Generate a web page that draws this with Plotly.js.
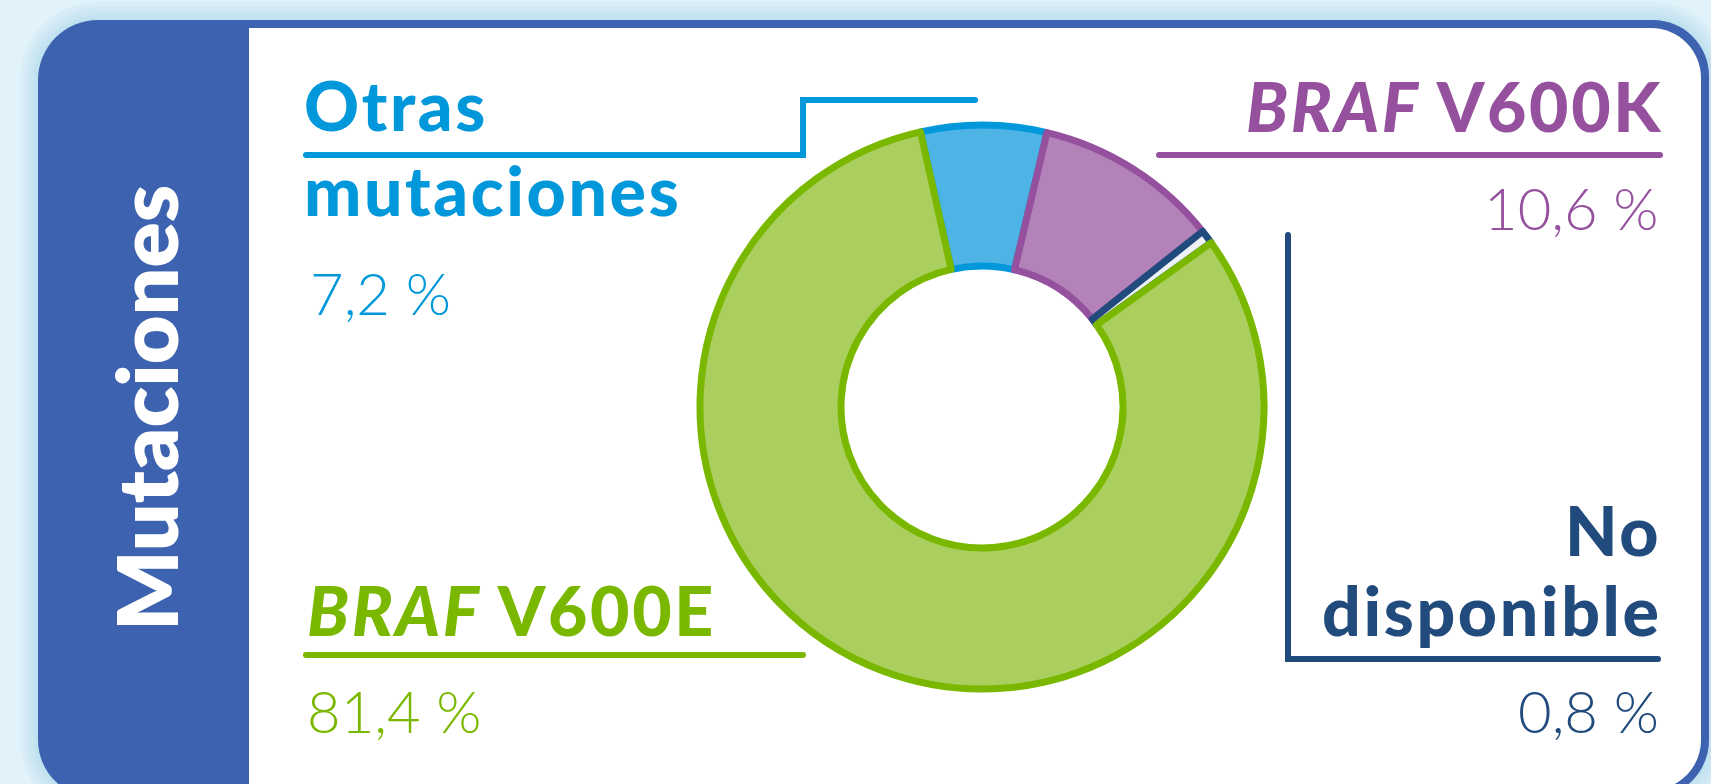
<!DOCTYPE html>
<html>
<head>
<meta charset="utf-8">
<script src="https://cdn.plot.ly/plotly-3.0.1.min.js"></script>
<style>
  html, body { margin: 0; padding: 0; background: #e2f2fa; }
  #chart { width: 1711px; height: 784px; }
  text.annotation-text[style*="font-weight: 900"] { letter-spacing: 2.6px; }
</style>
</head>
<body>
<div id="chart"></div>
<script>
// ---------- DATA ----------
const categories = ['Otras mutaciones', 'BRAF V600K', 'No disponible', 'BRAF V600E'];
const values = [7.2, 10.6, 0.8, 81.4];
const panelTitle = 'Mutaciones';

// ---------- STYLE ----------
const fillColors = ['#4eb4e5', '#b382b8', '#eef2f8', '#abcf5e'];
const lineColors = ['#0098da', '#95519e', '#214b7d', '#7ab800'];

const W = 1711, H = 784;
const px = x => x / W;
const py = y => 1 - y / H;

const FONT = 'Lato, "Open Sans", "DejaVu Sans", sans-serif';
const fmtPct = v => v.toFixed(1).replace('.', ',') + ' %';

function roundRectPath(x0, y0, x1, y1, r) {
  const k = 0.5523;
  const [tl, tr, br, bl] = r;
  const P = (x, y) => px(x).toFixed(5) + ',' + py(y).toFixed(5);
  let d = 'M' + P(x0 + tl, y0);
  d += ' L' + P(x1 - tr, y0);
  if (tr) d += ' C' + P(x1 - tr + tr * k, y0) + ' ' + P(x1, y0 + tr - tr * k) + ' ' + P(x1, y0 + tr);
  d += ' L' + P(x1, y1 - br);
  if (br) d += ' C' + P(x1, y1 - br + br * k) + ' ' + P(x1 - br + br * k, y1) + ' ' + P(x1 - br, y1);
  d += ' L' + P(x0 + bl, y1);
  if (bl) d += ' C' + P(x0 + bl - bl * k, y1) + ' ' + P(x0, y1 - bl + bl * k) + ' ' + P(x0, y1 - bl);
  d += ' L' + P(x0, y0 + tl);
  if (tl) d += ' C' + P(x0, y0 + tl - tl * k) + ' ' + P(x0 + tl - tl * k, y0) + ' ' + P(x0 + tl, y0);
  return d + ' Z';
}
function polyPath(pts) {
  return pts.map((p, i) => (i ? 'L' : 'M') + px(p[0]).toFixed(5) + ',' + py(p[1]).toFixed(5)).join(' ');
}

const shapes = [];
// soft shadow halo around the card
[18, 13, 9, 5, 2].forEach(g => {
  shapes.push({ type: 'path', xref: 'paper', yref: 'paper', layer: 'below',
    path: roundRectPath(38 - g, 20 - g, 1709 + g, 798 + g, [60 + g, 56 + g, 58 + g, 58 + g]),
    fillcolor: 'rgba(160,212,236,0.14)', line: { width: 0 } });
});
// card (blue) and white panel
shapes.push({ type: 'path', xref: 'paper', yref: 'paper', layer: 'below',
  path: roundRectPath(38, 20, 1709, 798, [60, 56, 58, 58]),
  fillcolor: '#3d62b0', line: { width: 0 } });
shapes.push({ type: 'path', xref: 'paper', yref: 'paper', layer: 'below',
  path: roundRectPath(249, 28, 1701, 790, [0, 50, 50, 0]),
  fillcolor: '#ffffff', line: { width: 0 } });

// leader lines
const LW = 6;
function leader(pts, color) {
  shapes.push({ type: 'path', xref: 'paper', yref: 'paper', layer: 'below',
    path: polyPath(pts), line: { color: color, width: LW } });
  [pts[0], pts[pts.length - 1]].forEach(p => {
    shapes.push({ type: 'circle', xref: 'paper', yref: 'paper', layer: 'below',
      x0: px(p[0] - LW / 2), x1: px(p[0] + LW / 2), y0: py(p[1] + LW / 2), y1: py(p[1] - LW / 2),
      fillcolor: color, line: { width: 0 } });
  });
}
leader([[306, 155], [803, 155], [803, 100], [975, 100]], lineColors[0]);
leader([[1159, 155], [1660, 155]], lineColors[1]);
leader([[1288, 235], [1288, 659], [1658, 659]], lineColors[2]);
leader([[306, 655], [803, 655]], lineColors[3]);

// ---------- ANNOTATIONS ----------
const annotations = [];
function txt(text, x, baseline, size, color, anchor, weight) {
  annotations.push({
    xref: 'paper', yref: 'paper', x: px(x), y: py(baseline - 0.387 * size),
    xanchor: anchor, yanchor: 'middle', showarrow: false, text: text,
    font: { family: FONT, size: size, color: color, weight: weight },
    borderpad: 0
  });
}
const LBL = 68, PCT = 58, BOLD = 900;
const fmtName = n => n.replace('BRAF', '<i>BRAF</i>');
const otrasWords = categories[0].split(' ');
const ndWords = categories[2].split(' ');

txt(otrasWords[0], 303, 131, LBL, lineColors[0], 'left', BOLD);
txt(otrasWords[1], 303, 216, LBL, lineColors[0], 'left', BOLD);
txt(fmtPct(values[0]), 309, 315, PCT, lineColors[0], 'left', 300);

txt(fmtName(categories[1]), 1664, 132, LBL, lineColors[1], 'right', BOLD);
txt(fmtPct(values[1]), 1660, 230, PCT, lineColors[1], 'right', 300);

txt(ndWords[0], 1662, 556, LBL, lineColors[2], 'right', BOLD);
txt(ndWords[1], 1662, 636, LBL, lineColors[2], 'right', BOLD);
txt(fmtPct(values[2]), 1660, 733, PCT, lineColors[2], 'right', 300);

txt(fmtName(categories[3]), 306, 636, LBL, lineColors[3], 'left', BOLD);
txt(fmtPct(values[3]), 306, 733, PCT, lineColors[3], 'left', 300);

// rotated panel title
annotations.push({
  xref: 'paper', yref: 'paper', x: px(145), y: py(408),
  xanchor: 'center', yanchor: 'middle', showarrow: false, textangle: -90,
  text: panelTitle, font: { family: FONT, size: 84, color: '#ffffff', weight: 800 }
});

// ---------- PIE ----------
const cx = 982, cy = 407, R = 282;
const trace = {
  type: 'pie',
  labels: categories,
  values: values,
  sort: false,
  direction: 'clockwise',
  rotation: -12.6,
  hole: 0.5,
  textinfo: 'none',
  hoverinfo: 'none',
  showlegend: false,
  marker: { colors: fillColors, line: { color: lineColors, width: 7 } },
  domain: { x: [px(cx - R), px(cx + R)], y: [py(cy + R), py(cy - R)] }
};

const layout = {
  width: W, height: H,
  margin: { l: 0, r: 0, t: 0, b: 0 },
  paper_bgcolor: '#e2f2fa',
  plot_bgcolor: 'rgba(0,0,0,0)',
  showlegend: false,
  shapes: shapes,
  annotations: annotations
};

Plotly.newPlot('chart', [trace], layout, { displayModeBar: false, staticPlot: true });
</script>
</body>
</html>
